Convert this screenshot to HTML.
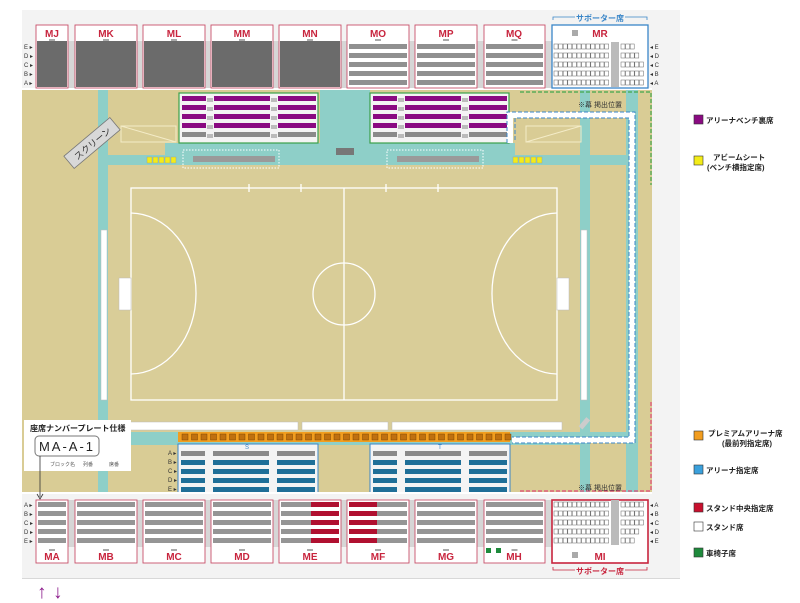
<!DOCTYPE html>
<html><head><meta charset="utf-8"><style>
html,body{margin:0;padding:0;background:#fff;width:800px;height:603px;overflow:hidden}
svg{display:block}
text{font-family:"Liberation Sans","Noto Sans CJK JP",sans-serif}
</style></head><body>
<svg id="s" width="800" height="603" viewBox="0 0 800 603" xmlns="http://www.w3.org/2000/svg">
<rect x="0" y="0" width="800" height="603" fill="#fff"/>
<rect x="22" y="10" width="658" height="568" fill="#f3f3f3"/>
<rect x="22" y="577" width="658" height="2" fill="#d8d8d8"/>
<!-- floor -->
<rect x="22" y="90" width="630" height="402" fill="#d9cc95"/>
<!-- teal lanes -->
<g fill="#8ecfc8">
<rect x="98" y="90" width="10" height="402"/>
<rect x="580" y="90" width="10" height="402"/>
<rect x="626" y="90" width="12" height="402"/>
<rect x="108" y="155" width="472" height="10"/>
<rect x="165" y="143" width="350" height="14"/>
<rect x="320" y="90" width="50" height="55"/>
<rect x="108" y="432" width="472" height="13"/>
<rect x="510" y="432" width="116" height="10"/>
<rect x="590" y="155" width="36" height="10"/>
<rect x="590" y="432" width="36" height="10"/>
</g>
<!-- court -->
<rect x="108" y="165" width="472" height="267" fill="#d9cd98"/>
<g stroke="#fff" stroke-width="1.3" fill="none">
<rect x="131" y="188" width="426" height="212"/>
<line x1="344" y1="188" x2="344" y2="400"/>
<circle cx="344" cy="294" r="31"/>
<path d="M131 213 A66 80 0 0 1 196 294 A66 80 0 0 1 131 374"/>
<path d="M557 213 A66 80 0 0 0 492 294 A66 80 0 0 0 557 374"/>
<line x1="249" y1="184" x2="249" y2="192"/><line x1="301" y1="184" x2="301" y2="192"/>
<line x1="386" y1="184" x2="386" y2="192"/><line x1="438" y1="184" x2="438" y2="192"/>
</g>
<g fill="#fff" stroke="#bbb" stroke-width="0.5">
<rect x="119" y="278" width="12" height="32"/><rect x="557" y="278" width="12" height="32"/>
<rect x="101" y="230" width="6" height="170"/><rect x="581" y="230" width="6" height="170"/>
<rect x="128" y="422" width="170" height="8"/><rect x="302" y="422" width="86" height="8"/><rect x="392" y="422" width="170" height="8"/>
</g>
<g fill="none" stroke="#f4ecc8" stroke-width="1">
<rect x="121" y="126" width="55" height="16"/><line x1="121" y1="126" x2="176" y2="142"/>
<rect x="526" y="126" width="55" height="16"/><line x1="526" y1="142" x2="581" y2="126"/>
</g>
<!-- screen -->
<g transform="translate(92,143) rotate(-40)">
<rect x="-30" y="-8" width="60" height="16" fill="#d8d8d8" stroke="#777" stroke-width="0.8"/>
<text x="0" y="4" font-size="9" text-anchor="middle" fill="#333">スクリーン</text>
</g>
<g id="yel" fill="#f3ec18" stroke="#999" stroke-width="0.4"></g>
<g fill="none" stroke="#fff" stroke-dasharray="1.5 1.5"><rect x="183" y="150" width="96" height="18"/><rect x="387" y="150" width="96" height="18"/></g>
<rect x="193" y="156" width="82" height="6" fill="#9a9a9a"/><rect x="397" y="156" width="82" height="6" fill="#9a9a9a"/>
<rect x="336" y="148" width="18" height="7" fill="#777"/>
<rect x="179" y="93" width="139" height="50" fill="#f4f4f4" stroke="#3aa04a" stroke-width="1.2"/>
<rect x="370" y="93" width="139" height="50" fill="#f4f4f4" stroke="#3aa04a" stroke-width="1.2"/>
<g id="bench"></g>
<path d="M520 92 H651 V185" fill="none" stroke="#41a64c" stroke-width="1.2" stroke-dasharray="4 2"/>
<path d="M510 143 V115 H632 V440 H512" fill="none" stroke="#fff" stroke-width="6"/>
<path d="M507 143 V112 H635 V443 H512" fill="none" stroke="#3a86c8" stroke-width="1" stroke-dasharray="4 2"/>
<path d="M515 140 V118 H629 V437 H512" fill="none" stroke="#3a86c8" stroke-width="1" stroke-dasharray="4 2"/>
<path d="M520 491 H651 V402" fill="none" stroke="#e04a78" stroke-width="1.2" stroke-dasharray="4 2"/>
<text x="578" y="107" font-size="7" fill="#333">※幕 掲出位置</text>
<text x="578" y="490" font-size="7" fill="#333">※幕 掲出位置</text>
<rect x="582" y="417" width="5" height="12" fill="#ccc" transform="rotate(40 584 423)"/>
<rect x="178" y="432" width="332" height="10" fill="#f29d1f"/>
<g id="prem" fill="#c07010" stroke="#6a3a00" stroke-width="0.4"></g>
<rect x="178" y="444" width="140" height="51" fill="#f4f4f4" stroke="#3a86c8" stroke-width="1"/>
<rect x="370" y="444" width="140" height="51" fill="#f4f4f4" stroke="#3a86c8" stroke-width="1"/>
<text x="247" y="449" font-size="6" fill="#3a86c8" text-anchor="middle">S</text>
<text x="440" y="449" font-size="6" fill="#3a86c8" text-anchor="middle">T</text>
<g id="arena"></g>
<rect x="22" y="10" width="658" height="80" fill="#f3f3f3"/>
<rect x="22" y="492" width="658" height="86" fill="#f3f3f3"/>
<rect x="22" y="88" width="630" height="2" fill="#fff"/>
<rect x="22" y="492" width="630" height="2" fill="#fff"/>
<g id="stands"></g>
<rect x="24" y="420" width="107" height="51" fill="#fff"/>
<text x="30" y="431" font-size="8" font-weight="bold" fill="#222">座席ナンバープレート仕様</text>
<rect x="35" y="436" width="64" height="20" rx="4" fill="#fff" stroke="#777"/>
<text x="67" y="451" font-size="13" text-anchor="middle" fill="#222" letter-spacing="2">MA-A-1</text>
<text x="50" y="466" font-size="5" fill="#555">ブロック名</text><text x="83" y="466" font-size="5" fill="#555">列番</text><text x="109" y="466" font-size="5" fill="#555">席番</text>
<line x1="40" y1="456" x2="40" y2="497" stroke="#333" stroke-width="0.8"/>
<path d="M37 494 L40 499 L43 494" fill="none" stroke="#333" stroke-width="0.8"/>
<text x="600" y="21" font-size="8" font-weight="bold" text-anchor="middle" fill="#3a86c8">サポーター席</text>
<path d="M553 20 V17 H575 M625 17 H647 V20" fill="none" stroke="#3a86c8" stroke-width="0.8"/>
<text x="600" y="574" font-size="8" font-weight="bold" text-anchor="middle" fill="#c8253e">サポーター席</text>
<path d="M553 567 V570 H575 M625 570 H647 V567" fill="none" stroke="#c8253e" stroke-width="0.8"/>
<text x="37" y="598" font-size="19" font-weight="bold" fill="#8b1a8b">↑</text><text x="53" y="598" font-size="19" font-weight="bold" fill="#8b1a8b">↓</text>
<g font-size="7.5" fill="#222" font-weight="bold">
<rect x="694" y="115" width="9" height="9" fill="#8a0a82" stroke="#333" stroke-width="0.6"/><text x="706" y="123">アリーナベンチ裏席</text>
<rect x="694" y="156" width="9" height="9" fill="#f3ec18" stroke="#333" stroke-width="0.6"/><text x="713" y="160">アビームシート</text><text x="707" y="170">(ベンチ横指定席)</text>
<rect x="694" y="431" width="9" height="9" fill="#f29d1f" stroke="#333" stroke-width="0.6"/><text x="708" y="436">プレミアムアリーナ席</text><text x="722" y="446">(最前列指定席)</text>
<rect x="694" y="465" width="9" height="9" fill="#3aa0dc" stroke="#333" stroke-width="0.6"/><text x="706" y="473">アリーナ指定席</text>
<rect x="694" y="503" width="9" height="9" fill="#c8102e" stroke="#333" stroke-width="0.6"/><text x="706" y="511">スタンド中央指定席</text>
<rect x="694" y="522" width="9" height="9" fill="#fff" stroke="#333" stroke-width="0.6"/><text x="706" y="530">スタンド席</text>
<rect x="694" y="548" width="9" height="9" fill="#1e8a3c" stroke="#333" stroke-width="0.6"/><text x="706" y="556">車椅子席</text>
</g>
<g font-size="10" font-weight="bold" fill="#c8253e" text-anchor="middle">
<text x="52" y="37">MJ</text><text x="106" y="37">MK</text><text x="174" y="37">ML</text><text x="242" y="37">MM</text><text x="310" y="37">MN</text><text x="378" y="37">MO</text><text x="446" y="37">MP</text><text x="514" y="37">MQ</text><text x="600" y="37">MR</text>
<text x="52" y="560">MA</text><text x="106" y="560">MB</text><text x="174" y="560">MC</text><text x="242" y="560">MD</text><text x="310" y="560">ME</text><text x="378" y="560">MF</text><text x="446" y="560">MG</text><text x="514" y="560">MH</text><text x="600" y="560">MI</text>
</g>
<g font-size="6" fill="#333">
<text x="24" y="49">E ▸</text><text x="24" y="58">D ▸</text><text x="24" y="67">C ▸</text><text x="24" y="76">B ▸</text><text x="24" y="85">A ▸</text>
<text x="650" y="49">◂ E</text><text x="650" y="58">◂ D</text><text x="650" y="67">◂ C</text><text x="650" y="76">◂ B</text><text x="650" y="85">◂ A</text>
<text x="24" y="507">A ▸</text><text x="24" y="516">B ▸</text><text x="24" y="525">C ▸</text><text x="24" y="534">D ▸</text><text x="24" y="543">E ▸</text>
<text x="650" y="507">◂ A</text><text x="650" y="516">◂ B</text><text x="650" y="525">◂ C</text><text x="650" y="534">◂ D</text><text x="650" y="543">◂ E</text>
<text x="168" y="455">A ▸</text><text x="168" y="464">B ▸</text><text x="168" y="473">C ▸</text><text x="168" y="482">D ▸</text><text x="168" y="491">E ▸</text>
</g>
</svg>
<script>
var NS="http://www.w3.org/2000/svg";
function R(p,x,y,w,h,f,s,sw){var r=document.createElementNS(NS,"rect");r.setAttribute("x",x);r.setAttribute("y",y);r.setAttribute("width",w);r.setAttribute("height",h);if(f)r.setAttribute("fill",f);if(s){r.setAttribute("stroke",s);r.setAttribute("stroke-width",sw||0.5);}p.appendChild(r);return r;}
var g=document.getElementById("yel");
for(var i=0;i<5;i++){R(g,147+i*6,157,5,6);R(g,513+i*6,157,5,6);}
g=document.getElementById("prem");
for(var x=182;x<506;x+=9.5){R(g,x,434,6,6);}
g=document.getElementById("bench");
[179,370].forEach(function(bx){for(var r=0;r<5;r++){var y=96+r*9,c=r<4?"#8a0a82":"#8a8a8a";R(g,bx+3,y,24,5,c);R(g,bx+35,y,56,5,c);R(g,bx+99,y,38,5,c);R(g,bx+28,y+2,6,4,"#bbb");R(g,bx+92,y+2,6,4,"#bbb");}});
g=document.getElementById("arena");
[178,370].forEach(function(bx){for(var r=0;r<5;r++){var y=451+r*9,c=r==0?"#8a8a8a":"#1f6f98";R(g,bx+3,y,24,5,c);R(g,bx+35,y,56,5,c);R(g,bx+99,y,38,5,c);}});
g=document.getElementById("stands");
var B=[[36,32],[75,62],[143,62],[211,62],[279,62],[347,62],[415,62],[484,61]];
R(g,36,41,612,47,"#d6d6d6");R(g,36,500,612,47,"#d6d6d6");
B.forEach(function(b,i){var x=b[0],w=b[1];
 R(g,x,25,w,63,"#fff","#c8506a",0.9);
 if(i<5){R(g,x+1,41,w-2,46,"#6b6b6b");}
 else{for(var r=0;r<5;r++)R(g,x+2,44+r*9,w-4,5,"#909090");}
 R(g,x+w/2-3,39,6,2,"#aaa");
 R(g,x,500,w,63,"#fff","#c8506a",0.9);
 for(var r=0;r<5;r++){var y=502+r*9;R(g,x+2,y,w-4,5,"#959595");
  if(i==4)R(g,x+w-30,y,28,5,"#b01030");if(i==5)R(g,x+2,y,28,5,"#b01030");}
 R(g,x+w/2-3,549,6,2,"#aaa");
});
R(g,552,25,96,63,"#fff","#3a86c8",1.3);R(g,552,500,96,63,"#fff","#c8253e",1.6);
R(g,572,30,6,6,"#aaa");R(g,572,552,6,6,"#aaa");
for(var r=0;r<5;r++){var y=44+r*9;for(var k=0;k<12;k++)R(g,554+k*4.6,y,4,5,"#fff","#666",0.5);R(g,611,y-2,8,9,"#bbb");var n=[3,4,5,5,5][r];for(var k=0;k<n;k++)R(g,621+k*4.6,y,4,5,"#fff","#666",0.5);
 y=502+r*9;for(var k=0;k<12;k++)R(g,554+k*4.6,y,4,5,"#fff","#666",0.5);R(g,611,y-2,8,9,"#bbb");n=[5,5,5,4,3][r];for(var k=0;k<n;k++)R(g,621+k*4.6,y,4,5,"#fff","#666",0.5);}
R(g,486,548,5,5,"#1e8a3c");R(g,496,548,5,5,"#1e8a3c");
</script>
</body></html>
